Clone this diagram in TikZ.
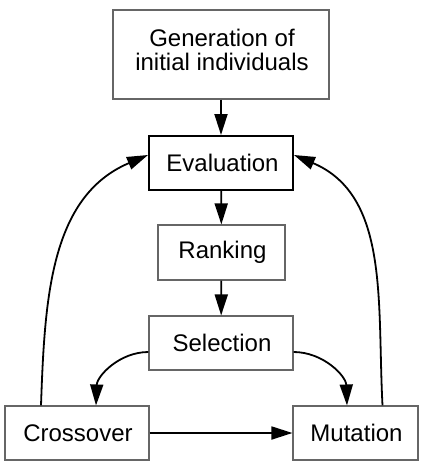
\documentclass[tikz,border=0pt]{standalone}
\usepackage{fontspec}
\setmainfont{Liberation Sans}
\usetikzlibrary{arrows.meta}

\begin{document}
\begin{tikzpicture}[x=1pt,y=-1pt,
			box/.style={draw=black!60,line width=1.1pt,inner sep=0pt,align=center,
				font=\fontsize{24}{24.5}\selectfont},
			flow/.style={line width=1.8pt,-{Triangle[length=21pt,width=13pt]}}]
			\useasboundingbox (0,0) rectangle (426,466);
			\node[box,minimum width=216pt,minimum height=89pt] (gen) at (221,54.5) {};
			\node[font=\fontsize{24}{24.5}\selectfont,align=center] (gentext) at (222,50) {Generation of\\initial individuals};
			\node[box,draw=black,line width=2pt,minimum width=144pt,minimum height=54pt] (eva) at (221,163) {\hspace{3pt}Evaluation};
			\node[box,minimum width=127pt,minimum height=55pt] (ran) at (221.5,252.5) {\hspace{2pt}Ranking};
			\node[box,minimum width=144pt,minimum height=54pt] (sel) at (221,343) {\hspace{2pt}Selection};
			\node[box,minimum width=144pt,minimum height=54pt] (cro) at (77,433) {\hspace{2pt}Crossover};
			\node[box,minimum width=125pt,minimum height=54pt] (mut) at (355.5,433) {\hspace{2pt}Mutation};

			\draw[flow] (gen) -- (eva);
			\draw[flow] (eva) -- (ran);
			\draw[flow] (ran) -- (sel);
			\draw[flow] ([yshift=-9pt]sel.west) to[out=180,in=88] ([xshift=19pt]cro.north);
			\draw[flow] ([yshift=-9pt]sel.east) to[out=0,in=92] ([xshift=-8.5pt]mut.north);
			\draw[flow] (cro) -- (mut);
			\draw[flow] ([xshift=-36pt]cro.north) to[out=88,in=203] ([yshift=8pt]eva.west);
			\draw[flow] ([xshift=27pt]mut.north) to[out=93,in=-23] ([yshift=8pt]eva.east);
\end{tikzpicture}
\end{document}
